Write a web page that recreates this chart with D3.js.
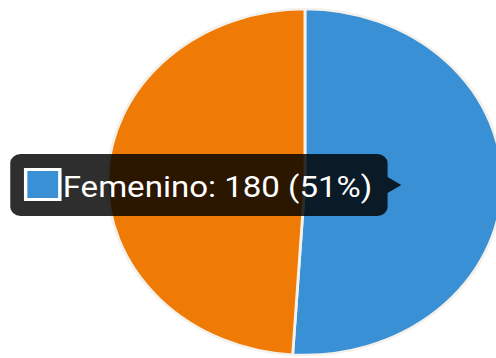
<!DOCTYPE html>
<html>
<head>
<meta charset="utf-8">
<script src="https://cdn.jsdelivr.net/npm/d3@7"></script>
<style>
  html, body { margin: 0; padding: 0; background: #fff; overflow: hidden; }
  svg { display: block; }
</style>
</head>
<body>
<svg id="chart" width="496" height="358"></svg>
<script>
// Gender breakdown
const categories = ["Femenino", "Masculino"];
const values = [180, 173];
const colors = ["#3a90d4", "#ef7a05"];
const highlighted = "Femenino";

const W = 496, H = 358;
const sx = 1.14; // horizontal stretch of the drawing
const svg = d3.select("#chart");
const root = svg.append("g").attr("transform", `scale(${sx},1)`);

const cx = 267.5, cy = 182, r = 173;

const data = categories.map((c, i) => ({ name: c, value: values[i], color: colors[i] }));
const total = d3.sum(values);

const pie = d3.pie().sort(null).value(d => d.value);
const arc = d3.arc().innerRadius(0).outerRadius(r);

const gPie = root.append("g").attr("transform", `translate(${cx},${cy})`);
gPie.selectAll("path")
  .data(pie(data))
  .join("path")
  .attr("d", arc)
  .attr("fill", d => d.data.color)
  .attr("stroke", "#f4f1ec")
  .attr("stroke-width", 2.5);

// Tooltip for the highlighted slice
const item = data.find(d => d.name === highlighted);
const pct = Math.round(item.value / total * 100);
const tip = root.append("g");
const tx = 9, ty = 154, tw = 331, th = 62, rad = 9, ar = 12, ah = 8;
const tipPath = d3.path();
tipPath.moveTo(tx + rad, ty);
tipPath.lineTo(tx + tw - rad, ty);
tipPath.arcTo(tx + tw, ty, tx + tw, ty + rad, rad);
tipPath.lineTo(tx + tw, ty + th / 2 - ah);
tipPath.lineTo(tx + tw + ar, ty + th / 2);
tipPath.lineTo(tx + tw, ty + th / 2 + ah);
tipPath.lineTo(tx + tw, ty + th - rad);
tipPath.arcTo(tx + tw, ty + th, tx + tw - rad, ty + th, rad);
tipPath.lineTo(tx + rad, ty + th);
tipPath.arcTo(tx, ty + th, tx, ty + th - rad, rad);
tipPath.lineTo(tx, ty + rad);
tipPath.arcTo(tx, ty, tx + rad, ty, rad);
tipPath.closePath();
tip.append("path")
  .attr("d", tipPath.toString())
  .attr("fill", "rgba(0,0,0,0.82)");

tip.append("rect")
  .attr("x", 22.5).attr("y", 169.5)
  .attr("width", 30).attr("height", 30)
  .attr("fill", item.color)
  .attr("stroke", "#fff")
  .attr("stroke-width", 3);

tip.append("text")
  .attr("x", 55)
  .attr("y", 197)
  .attr("fill", "#fff")
  .attr("font-family", "Roboto, sans-serif")
  .attr("font-size", 29)
  .text(`${item.name}: ${item.value} (${pct}%)`);
</script>
</body>
</html>
